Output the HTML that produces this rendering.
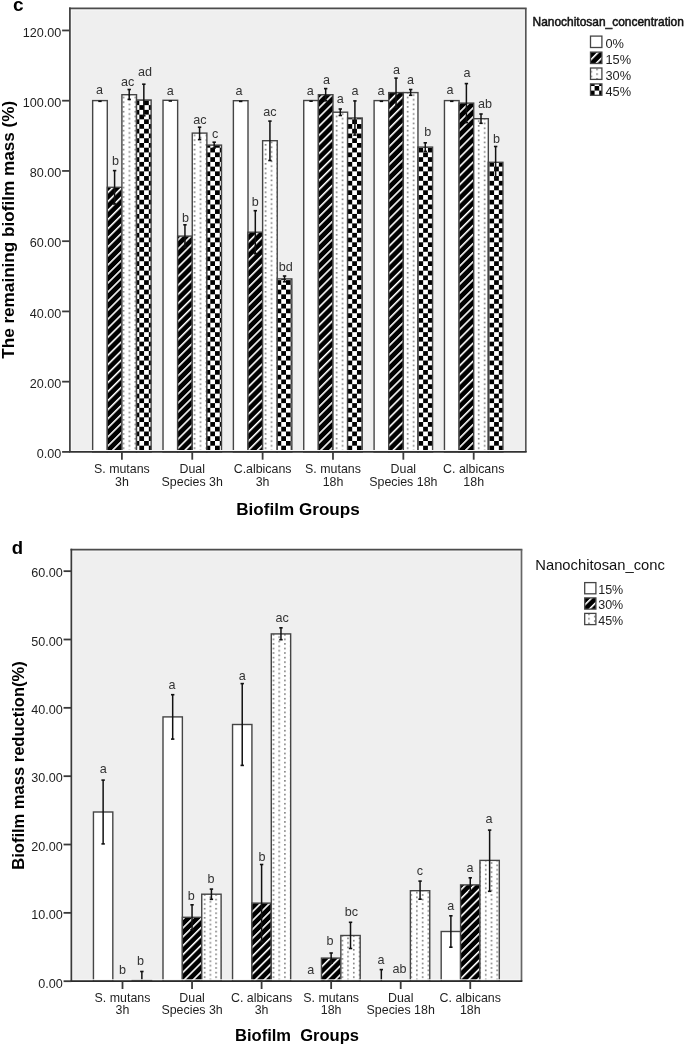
<!DOCTYPE html>
<html><head><meta charset="utf-8"><title>Biofilm charts</title>
<style>
html,body{margin:0;padding:0;background:#fff;width:685px;height:1046px;overflow:hidden}
svg{display:block;will-change:transform;filter:blur(0.35px)}
text{font-family:"Liberation Sans", sans-serif}
</style></head><body>
<svg width="685" height="1046" viewBox="0 0 685 1046">
<defs>
<pattern id="hatch" patternUnits="userSpaceOnUse" x="0.37" y="0" width="6.40" height="6.40" patternTransform="rotate(45)">
<rect width="6.40" height="6.40" fill="#000"/><rect x="0" y="0" width="1.6" height="6.40" fill="#fff"/>
</pattern>
<pattern id="hatchd" patternUnits="userSpaceOnUse" x="5.95" y="0" width="6.28" height="6.28" patternTransform="rotate(45)">
<rect width="6.28" height="6.28" fill="#000"/><rect x="0" y="0" width="1.6" height="6.28" fill="#fff"/>
</pattern>
<pattern id="hatchLc" patternUnits="userSpaceOnUse" x="4.77" y="0" width="6.40" height="6.40" patternTransform="rotate(45)">
<rect width="6.40" height="6.40" fill="#000"/><rect x="0" y="0" width="1.6" height="6.40" fill="#fff"/>
</pattern>
<pattern id="hatchLd" patternUnits="userSpaceOnUse" x="5.14" y="0" width="6.28" height="6.28" patternTransform="rotate(45)">
<rect width="6.28" height="6.28" fill="#000"/><rect x="0" y="0" width="1.6" height="6.28" fill="#fff"/>
</pattern>
<pattern id="checkL" patternUnits="userSpaceOnUse" x="590.00" y="81.40" width="9.2" height="9.2">
<rect width="9.2" height="9.2" fill="#fff"/><rect width="4.6" height="4.6" fill="#000"/><rect x="4.6" y="4.6" width="4.6" height="4.6" fill="#000"/>
</pattern>
<pattern id="dotsLc" patternUnits="userSpaceOnUse" x="596.25" y="73.35" width="11.6" height="4.74">
<rect width="11.6" height="4.74" fill="#fff"/><rect x="0" y="0" width="1.6" height="1.6" fill="#7c7c7c"/><rect x="5.8" y="2.37" width="1.6" height="1.6" fill="#7c7c7c"/>
</pattern>
<pattern id="check" patternUnits="userSpaceOnUse" x="6.91" y="1.08" width="9.46" height="9.46">
<rect width="9.46" height="9.46" fill="#fff"/><rect width="4.73" height="4.73" fill="#000"/><rect x="4.73" y="4.73" width="4.73" height="4.73" fill="#000"/>
</pattern>
<pattern id="dots" patternUnits="userSpaceOnUse" x="4.26" y="1.84" width="11.84" height="4.74">
<rect width="11.84" height="4.74" fill="#fff"/><rect x="0" y="0" width="1.6" height="1.6" fill="#7c7c7c"/><rect x="5.92" y="2.37" width="1.6" height="1.6" fill="#7c7c7c"/>
</pattern>
<pattern id="dotsd" patternUnits="userSpaceOnUse" x="8.74" y="4.005" width="11.474" height="4.565">
<rect width="11.474" height="4.565" fill="#fff"/><rect x="0" y="0" width="1.6" height="1.6" fill="#7c7c7c"/><rect x="5.737" y="2.2825" width="1.6" height="1.6" fill="#7c7c7c"/>
</pattern>
</defs>
<rect width="685" height="1046" fill="#fff"/>

<rect x="69.9" y="8.47" width="455.90" height="443.43" fill="#efefef"/>
<rect x="92.66" y="100.60" width="14.62" height="351.30" fill="#fff" stroke="#454545" stroke-width="1.4"/>
<rect x="107.28" y="187.30" width="14.62" height="264.60" fill="url(#hatch)" stroke="#454545" stroke-width="1.4"/>
<rect x="121.90" y="94.70" width="14.62" height="357.20" fill="url(#dots)" stroke="#454545" stroke-width="1.4"/>
<rect x="136.52" y="100.00" width="14.62" height="351.90" fill="url(#check)" stroke="#454545" stroke-width="1.4"/>
<rect x="163.02" y="100.30" width="14.62" height="351.60" fill="#fff" stroke="#454545" stroke-width="1.4"/>
<rect x="177.64" y="236.10" width="14.62" height="215.80" fill="url(#hatch)" stroke="#454545" stroke-width="1.4"/>
<rect x="192.26" y="133.10" width="14.62" height="318.80" fill="url(#dots)" stroke="#454545" stroke-width="1.4"/>
<rect x="206.88" y="145.10" width="14.62" height="306.80" fill="url(#check)" stroke="#454545" stroke-width="1.4"/>
<rect x="233.38" y="100.70" width="14.62" height="351.20" fill="#fff" stroke="#454545" stroke-width="1.4"/>
<rect x="248.00" y="232.20" width="14.62" height="219.70" fill="url(#hatch)" stroke="#454545" stroke-width="1.4"/>
<rect x="262.62" y="140.70" width="14.62" height="311.20" fill="url(#dots)" stroke="#454545" stroke-width="1.4"/>
<rect x="277.24" y="278.90" width="14.62" height="173.00" fill="url(#check)" stroke="#454545" stroke-width="1.4"/>
<rect x="303.74" y="100.50" width="14.62" height="351.40" fill="#fff" stroke="#454545" stroke-width="1.4"/>
<rect x="318.36" y="94.70" width="14.62" height="357.20" fill="url(#hatch)" stroke="#454545" stroke-width="1.4"/>
<rect x="332.98" y="112.20" width="14.62" height="339.70" fill="url(#dots)" stroke="#454545" stroke-width="1.4"/>
<rect x="347.60" y="118.00" width="14.62" height="333.90" fill="url(#check)" stroke="#454545" stroke-width="1.4"/>
<rect x="374.10" y="100.60" width="14.62" height="351.30" fill="#fff" stroke="#454545" stroke-width="1.4"/>
<rect x="388.72" y="92.60" width="14.62" height="359.30" fill="url(#hatch)" stroke="#454545" stroke-width="1.4"/>
<rect x="403.34" y="92.60" width="14.62" height="359.30" fill="url(#dots)" stroke="#454545" stroke-width="1.4"/>
<rect x="417.96" y="147.10" width="14.62" height="304.80" fill="url(#check)" stroke="#454545" stroke-width="1.4"/>
<rect x="444.46" y="100.60" width="14.62" height="351.30" fill="#fff" stroke="#454545" stroke-width="1.4"/>
<rect x="459.08" y="103.10" width="14.62" height="348.80" fill="url(#hatch)" stroke="#454545" stroke-width="1.4"/>
<rect x="473.70" y="118.70" width="14.62" height="333.20" fill="url(#dots)" stroke="#454545" stroke-width="1.4"/>
<rect x="488.32" y="162.30" width="14.62" height="289.60" fill="url(#check)" stroke="#454545" stroke-width="1.4"/>
<line x1="98.27" y1="101.30" x2="101.67" y2="101.30" stroke="#111" stroke-width="1.6"/>
<line x1="114.59" y1="170.60" x2="114.59" y2="204.00" stroke="#111" stroke-width="1.5"/>
<line x1="112.89" y1="170.60" x2="116.29" y2="170.60" stroke="#111" stroke-width="1.6"/>
<line x1="112.89" y1="204.00" x2="116.29" y2="204.00" stroke="#111" stroke-width="1.6"/>
<line x1="129.21" y1="89.50" x2="129.21" y2="99.40" stroke="#111" stroke-width="1.5"/>
<line x1="127.51" y1="89.50" x2="130.91" y2="89.50" stroke="#111" stroke-width="1.6"/>
<line x1="127.51" y1="99.40" x2="130.91" y2="99.40" stroke="#111" stroke-width="1.6"/>
<line x1="143.83" y1="84.20" x2="143.83" y2="115.80" stroke="#111" stroke-width="1.5"/>
<line x1="142.13" y1="84.20" x2="145.53" y2="84.20" stroke="#111" stroke-width="1.6"/>
<line x1="142.13" y1="115.80" x2="145.53" y2="115.80" stroke="#111" stroke-width="1.6"/>
<line x1="168.63" y1="101.00" x2="172.03" y2="101.00" stroke="#111" stroke-width="1.6"/>
<line x1="184.95" y1="224.80" x2="184.95" y2="247.40" stroke="#111" stroke-width="1.5"/>
<line x1="183.25" y1="224.80" x2="186.65" y2="224.80" stroke="#111" stroke-width="1.6"/>
<line x1="183.25" y1="247.40" x2="186.65" y2="247.40" stroke="#111" stroke-width="1.6"/>
<line x1="199.57" y1="127.20" x2="199.57" y2="139.60" stroke="#111" stroke-width="1.5"/>
<line x1="197.87" y1="127.20" x2="201.27" y2="127.20" stroke="#111" stroke-width="1.6"/>
<line x1="197.87" y1="139.60" x2="201.27" y2="139.60" stroke="#111" stroke-width="1.6"/>
<line x1="214.19" y1="142.20" x2="214.19" y2="148.00" stroke="#111" stroke-width="1.5"/>
<line x1="212.49" y1="142.20" x2="215.89" y2="142.20" stroke="#111" stroke-width="1.6"/>
<line x1="212.49" y1="148.00" x2="215.89" y2="148.00" stroke="#111" stroke-width="1.6"/>
<line x1="238.99" y1="101.40" x2="242.39" y2="101.40" stroke="#111" stroke-width="1.6"/>
<line x1="255.31" y1="210.70" x2="255.31" y2="253.70" stroke="#111" stroke-width="1.5"/>
<line x1="253.61" y1="210.70" x2="257.01" y2="210.70" stroke="#111" stroke-width="1.6"/>
<line x1="253.61" y1="253.70" x2="257.01" y2="253.70" stroke="#111" stroke-width="1.6"/>
<line x1="269.93" y1="121.10" x2="269.93" y2="160.50" stroke="#111" stroke-width="1.5"/>
<line x1="268.23" y1="121.10" x2="271.63" y2="121.10" stroke="#111" stroke-width="1.6"/>
<line x1="268.23" y1="160.50" x2="271.63" y2="160.50" stroke="#111" stroke-width="1.6"/>
<line x1="284.55" y1="276.00" x2="284.55" y2="281.80" stroke="#111" stroke-width="1.5"/>
<line x1="282.85" y1="276.00" x2="286.25" y2="276.00" stroke="#111" stroke-width="1.6"/>
<line x1="282.85" y1="281.80" x2="286.25" y2="281.80" stroke="#111" stroke-width="1.6"/>
<line x1="309.35" y1="101.20" x2="312.75" y2="101.20" stroke="#111" stroke-width="1.6"/>
<line x1="325.67" y1="88.60" x2="325.67" y2="100.80" stroke="#111" stroke-width="1.5"/>
<line x1="323.97" y1="88.60" x2="327.37" y2="88.60" stroke="#111" stroke-width="1.6"/>
<line x1="323.97" y1="100.80" x2="327.37" y2="100.80" stroke="#111" stroke-width="1.6"/>
<line x1="340.29" y1="109.00" x2="340.29" y2="115.50" stroke="#111" stroke-width="1.5"/>
<line x1="338.59" y1="109.00" x2="341.99" y2="109.00" stroke="#111" stroke-width="1.6"/>
<line x1="338.59" y1="115.50" x2="341.99" y2="115.50" stroke="#111" stroke-width="1.6"/>
<line x1="354.91" y1="100.90" x2="354.91" y2="135.10" stroke="#111" stroke-width="1.5"/>
<line x1="353.21" y1="100.90" x2="356.61" y2="100.90" stroke="#111" stroke-width="1.6"/>
<line x1="353.21" y1="135.10" x2="356.61" y2="135.10" stroke="#111" stroke-width="1.6"/>
<line x1="379.71" y1="101.30" x2="383.11" y2="101.30" stroke="#111" stroke-width="1.6"/>
<line x1="396.03" y1="78.10" x2="396.03" y2="107.10" stroke="#111" stroke-width="1.5"/>
<line x1="394.33" y1="78.10" x2="397.73" y2="78.10" stroke="#111" stroke-width="1.6"/>
<line x1="394.33" y1="107.10" x2="397.73" y2="107.10" stroke="#111" stroke-width="1.6"/>
<line x1="410.65" y1="89.50" x2="410.65" y2="95.30" stroke="#111" stroke-width="1.5"/>
<line x1="408.95" y1="89.50" x2="412.35" y2="89.50" stroke="#111" stroke-width="1.6"/>
<line x1="408.95" y1="95.30" x2="412.35" y2="95.30" stroke="#111" stroke-width="1.6"/>
<line x1="425.27" y1="142.80" x2="425.27" y2="151.40" stroke="#111" stroke-width="1.5"/>
<line x1="423.57" y1="142.80" x2="426.97" y2="142.80" stroke="#111" stroke-width="1.6"/>
<line x1="423.57" y1="151.40" x2="426.97" y2="151.40" stroke="#111" stroke-width="1.6"/>
<line x1="450.07" y1="101.30" x2="453.47" y2="101.30" stroke="#111" stroke-width="1.6"/>
<line x1="466.39" y1="83.60" x2="466.39" y2="122.60" stroke="#111" stroke-width="1.5"/>
<line x1="464.69" y1="83.60" x2="468.09" y2="83.60" stroke="#111" stroke-width="1.6"/>
<line x1="464.69" y1="122.60" x2="468.09" y2="122.60" stroke="#111" stroke-width="1.6"/>
<line x1="481.01" y1="114.00" x2="481.01" y2="123.30" stroke="#111" stroke-width="1.5"/>
<line x1="479.31" y1="114.00" x2="482.71" y2="114.00" stroke="#111" stroke-width="1.6"/>
<line x1="479.31" y1="123.30" x2="482.71" y2="123.30" stroke="#111" stroke-width="1.6"/>
<line x1="495.63" y1="146.50" x2="495.63" y2="178.10" stroke="#111" stroke-width="1.5"/>
<line x1="493.93" y1="146.50" x2="497.33" y2="146.50" stroke="#111" stroke-width="1.6"/>
<line x1="493.93" y1="178.10" x2="497.33" y2="178.10" stroke="#111" stroke-width="1.6"/>
<text x="99.40" y="93.50" font-size="12.6" text-anchor="middle" fill="#333">a</text>
<text x="115.40" y="164.50" font-size="12.6" text-anchor="middle" fill="#333">b</text>
<text x="127.60" y="85.60" font-size="12.6" text-anchor="middle" fill="#333">ac</text>
<text x="145.00" y="76.00" font-size="12.6" text-anchor="middle" fill="#333">ad</text>
<text x="170.30" y="94.80" font-size="12.6" text-anchor="middle" fill="#333">a</text>
<text x="185.40" y="221.50" font-size="12.6" text-anchor="middle" fill="#333">b</text>
<text x="199.90" y="123.60" font-size="12.6" text-anchor="middle" fill="#333">ac</text>
<text x="215.10" y="137.60" font-size="12.6" text-anchor="middle" fill="#333">c</text>
<text x="239.00" y="94.60" font-size="12.6" text-anchor="middle" fill="#333">a</text>
<text x="255.30" y="205.50" font-size="12.6" text-anchor="middle" fill="#333">b</text>
<text x="269.90" y="115.60" font-size="12.6" text-anchor="middle" fill="#333">ac</text>
<text x="285.80" y="270.70" font-size="12.6" text-anchor="middle" fill="#333">bd</text>
<text x="310.20" y="94.50" font-size="12.6" text-anchor="middle" fill="#333">a</text>
<text x="326.60" y="84.00" font-size="12.6" text-anchor="middle" fill="#333">a</text>
<text x="340.20" y="102.60" font-size="12.6" text-anchor="middle" fill="#333">a</text>
<text x="355.00" y="94.50" font-size="12.6" text-anchor="middle" fill="#333">a</text>
<text x="381.00" y="94.50" font-size="12.6" text-anchor="middle" fill="#333">a</text>
<text x="396.60" y="73.70" font-size="12.6" text-anchor="middle" fill="#333">a</text>
<text x="410.40" y="83.60" font-size="12.6" text-anchor="middle" fill="#333">a</text>
<text x="427.80" y="136.00" font-size="12.6" text-anchor="middle" fill="#333">b</text>
<text x="449.90" y="93.60" font-size="12.6" text-anchor="middle" fill="#333">a</text>
<text x="467.10" y="77.00" font-size="12.6" text-anchor="middle" fill="#333">a</text>
<text x="484.90" y="107.60" font-size="12.6" text-anchor="middle" fill="#333">ab</text>
<text x="496.40" y="142.50" font-size="12.6" text-anchor="middle" fill="#333">b</text>
<rect x="71.30000000000001" y="9.870000000000001" width="453.10" height="440.63" fill="none" stroke="#f8f8f8" stroke-width="1"/>
<line x1="69.05000000000001" y1="8.47" x2="526.65" y2="8.47" stroke="#4c4c4c" stroke-width="1.7"/>
<line x1="525.8" y1="8.47" x2="525.8" y2="451.9" stroke="#555555" stroke-width="1.7"/>
<line x1="69.9" y1="7.620000000000001" x2="69.9" y2="451.9" stroke="#3c3c3c" stroke-width="1.7"/>
<line x1="69.05000000000001" y1="451.9" x2="526.65" y2="451.9" stroke="#333333" stroke-width="1.7"/>
<line x1="62.10" y1="451.90" x2="69.90" y2="451.90" stroke="#3c3c3c" stroke-width="1.8"/>
<text x="61.20" y="458.20" font-size="12.6" text-anchor="end" fill="#1e1e1e">0.00</text>
<line x1="62.10" y1="381.66" x2="69.90" y2="381.66" stroke="#3c3c3c" stroke-width="1.8"/>
<text x="61.20" y="387.96" font-size="12.6" text-anchor="end" fill="#1e1e1e">20.00</text>
<line x1="62.10" y1="311.42" x2="69.90" y2="311.42" stroke="#3c3c3c" stroke-width="1.8"/>
<text x="61.20" y="317.72" font-size="12.6" text-anchor="end" fill="#1e1e1e">40.00</text>
<line x1="62.10" y1="241.18" x2="69.90" y2="241.18" stroke="#3c3c3c" stroke-width="1.8"/>
<text x="61.20" y="247.48" font-size="12.6" text-anchor="end" fill="#1e1e1e">60.00</text>
<line x1="62.10" y1="170.94" x2="69.90" y2="170.94" stroke="#3c3c3c" stroke-width="1.8"/>
<text x="61.20" y="177.24" font-size="12.6" text-anchor="end" fill="#1e1e1e">80.00</text>
<line x1="62.10" y1="100.70" x2="69.90" y2="100.70" stroke="#3c3c3c" stroke-width="1.8"/>
<text x="61.20" y="107.00" font-size="12.6" text-anchor="end" fill="#1e1e1e">100.00</text>
<line x1="62.10" y1="30.46" x2="69.90" y2="30.46" stroke="#3c3c3c" stroke-width="1.8"/>
<text x="61.20" y="36.76" font-size="12.6" text-anchor="end" fill="#1e1e1e">120.00</text>
<line x1="121.90" y1="451.90" x2="121.90" y2="459.70" stroke="#3c3c3c" stroke-width="1.8"/>
<text x="121.90" y="472.70" font-size="12.4" text-anchor="middle" fill="#1e1e1e">S. mutans</text>
<text x="121.90" y="485.50" font-size="12.4" text-anchor="middle" fill="#1e1e1e">3h</text>
<line x1="192.26" y1="451.90" x2="192.26" y2="459.70" stroke="#3c3c3c" stroke-width="1.8"/>
<text x="192.26" y="472.70" font-size="12.4" text-anchor="middle" fill="#1e1e1e">Dual</text>
<text x="192.26" y="485.50" font-size="12.4" text-anchor="middle" fill="#1e1e1e">Species 3h</text>
<line x1="262.62" y1="451.90" x2="262.62" y2="459.70" stroke="#3c3c3c" stroke-width="1.8"/>
<text x="262.62" y="472.70" font-size="12.4" text-anchor="middle" fill="#1e1e1e">C.albicans</text>
<text x="262.62" y="485.50" font-size="12.4" text-anchor="middle" fill="#1e1e1e">3h</text>
<line x1="332.98" y1="451.90" x2="332.98" y2="459.70" stroke="#3c3c3c" stroke-width="1.8"/>
<text x="332.98" y="472.70" font-size="12.4" text-anchor="middle" fill="#1e1e1e">S. mutans</text>
<text x="332.98" y="485.50" font-size="12.4" text-anchor="middle" fill="#1e1e1e">18h</text>
<line x1="403.34" y1="451.90" x2="403.34" y2="459.70" stroke="#3c3c3c" stroke-width="1.8"/>
<text x="403.34" y="472.70" font-size="12.4" text-anchor="middle" fill="#1e1e1e">Dual</text>
<text x="403.34" y="485.50" font-size="12.4" text-anchor="middle" fill="#1e1e1e">Species 18h</text>
<line x1="473.70" y1="451.90" x2="473.70" y2="459.70" stroke="#3c3c3c" stroke-width="1.8"/>
<text x="473.70" y="472.70" font-size="12.4" text-anchor="middle" fill="#1e1e1e">C. albicans</text>
<text x="473.70" y="485.50" font-size="12.4" text-anchor="middle" fill="#1e1e1e">18h</text>
<text x="298" y="515" font-size="17" font-weight="bold" text-anchor="middle" fill="#000" textLength="123.5" lengthAdjust="spacingAndGlyphs" xml:space="preserve" style="white-space:pre">Biofilm Groups</text>
<rect x="71.35" y="549.56" width="450.15" height="431.64" fill="#efefef"/>
<rect x="93.44" y="812.00" width="19.37" height="169.20" fill="#fff" stroke="#454545" stroke-width="1.4"/>
<rect x="132.19" y="980.30" width="19.37" height="0.90" fill="url(#dotsd)" stroke="#454545" stroke-width="1.4"/>
<rect x="163.00" y="716.90" width="19.37" height="264.30" fill="#fff" stroke="#454545" stroke-width="1.4"/>
<rect x="182.37" y="917.30" width="19.37" height="63.90" fill="url(#hatchd)" stroke="#454545" stroke-width="1.4"/>
<rect x="201.74" y="894.20" width="19.37" height="87.00" fill="url(#dotsd)" stroke="#454545" stroke-width="1.4"/>
<rect x="232.55" y="724.50" width="19.37" height="256.70" fill="#fff" stroke="#454545" stroke-width="1.4"/>
<rect x="251.92" y="903.10" width="19.37" height="78.10" fill="url(#hatchd)" stroke="#454545" stroke-width="1.4"/>
<rect x="271.29" y="633.90" width="19.37" height="347.30" fill="url(#dotsd)" stroke="#454545" stroke-width="1.4"/>
<rect x="321.46" y="958.10" width="19.37" height="23.10" fill="url(#hatchd)" stroke="#454545" stroke-width="1.4"/>
<rect x="340.83" y="935.50" width="19.37" height="45.70" fill="url(#dotsd)" stroke="#454545" stroke-width="1.4"/>
<rect x="410.38" y="890.70" width="19.37" height="90.50" fill="url(#dotsd)" stroke="#454545" stroke-width="1.4"/>
<rect x="441.19" y="931.50" width="19.37" height="49.70" fill="#fff" stroke="#454545" stroke-width="1.4"/>
<rect x="460.56" y="884.90" width="19.37" height="96.30" fill="url(#hatchd)" stroke="#454545" stroke-width="1.4"/>
<rect x="479.94" y="860.40" width="19.37" height="120.80" fill="url(#dotsd)" stroke="#454545" stroke-width="1.4"/>
<line x1="103.13" y1="780.10" x2="103.13" y2="843.90" stroke="#111" stroke-width="1.5"/>
<line x1="101.43" y1="780.10" x2="104.83" y2="780.10" stroke="#111" stroke-width="1.6"/>
<line x1="101.43" y1="843.90" x2="104.83" y2="843.90" stroke="#111" stroke-width="1.6"/>
<line x1="141.87" y1="971.50" x2="141.87" y2="981.00" stroke="#111" stroke-width="1.5"/>
<line x1="140.17" y1="971.50" x2="143.57" y2="971.50" stroke="#111" stroke-width="1.6"/>
<line x1="172.68" y1="694.70" x2="172.68" y2="739.10" stroke="#111" stroke-width="1.5"/>
<line x1="170.98" y1="694.70" x2="174.38" y2="694.70" stroke="#111" stroke-width="1.6"/>
<line x1="170.98" y1="739.10" x2="174.38" y2="739.10" stroke="#111" stroke-width="1.6"/>
<line x1="192.05" y1="904.80" x2="192.05" y2="929.80" stroke="#111" stroke-width="1.5"/>
<line x1="190.35" y1="904.80" x2="193.75" y2="904.80" stroke="#111" stroke-width="1.6"/>
<line x1="190.35" y1="929.80" x2="193.75" y2="929.80" stroke="#111" stroke-width="1.6"/>
<line x1="211.42" y1="889.10" x2="211.42" y2="899.30" stroke="#111" stroke-width="1.5"/>
<line x1="209.72" y1="889.10" x2="213.12" y2="889.10" stroke="#111" stroke-width="1.6"/>
<line x1="209.72" y1="899.30" x2="213.12" y2="899.30" stroke="#111" stroke-width="1.6"/>
<line x1="242.23" y1="683.60" x2="242.23" y2="765.40" stroke="#111" stroke-width="1.5"/>
<line x1="240.53" y1="683.60" x2="243.93" y2="683.60" stroke="#111" stroke-width="1.6"/>
<line x1="240.53" y1="765.40" x2="243.93" y2="765.40" stroke="#111" stroke-width="1.6"/>
<line x1="261.60" y1="864.50" x2="261.60" y2="941.70" stroke="#111" stroke-width="1.5"/>
<line x1="259.90" y1="864.50" x2="263.30" y2="864.50" stroke="#111" stroke-width="1.6"/>
<line x1="259.90" y1="941.70" x2="263.30" y2="941.70" stroke="#111" stroke-width="1.6"/>
<line x1="280.97" y1="627.80" x2="280.97" y2="639.70" stroke="#111" stroke-width="1.5"/>
<line x1="279.27" y1="627.80" x2="282.67" y2="627.80" stroke="#111" stroke-width="1.6"/>
<line x1="279.27" y1="639.70" x2="282.67" y2="639.70" stroke="#111" stroke-width="1.6"/>
<line x1="331.15" y1="953.00" x2="331.15" y2="963.20" stroke="#111" stroke-width="1.5"/>
<line x1="329.45" y1="953.00" x2="332.85" y2="953.00" stroke="#111" stroke-width="1.6"/>
<line x1="329.45" y1="963.20" x2="332.85" y2="963.20" stroke="#111" stroke-width="1.6"/>
<line x1="350.52" y1="922.30" x2="350.52" y2="948.50" stroke="#111" stroke-width="1.5"/>
<line x1="348.82" y1="922.30" x2="352.22" y2="922.30" stroke="#111" stroke-width="1.6"/>
<line x1="348.82" y1="948.50" x2="352.22" y2="948.50" stroke="#111" stroke-width="1.6"/>
<line x1="381.33" y1="969.60" x2="381.33" y2="981.00" stroke="#111" stroke-width="1.5"/>
<line x1="379.63" y1="969.60" x2="383.03" y2="969.60" stroke="#111" stroke-width="1.6"/>
<line x1="420.07" y1="881.10" x2="420.07" y2="899.20" stroke="#111" stroke-width="1.5"/>
<line x1="418.37" y1="881.10" x2="421.77" y2="881.10" stroke="#111" stroke-width="1.6"/>
<line x1="418.37" y1="899.20" x2="421.77" y2="899.20" stroke="#111" stroke-width="1.6"/>
<line x1="450.88" y1="915.80" x2="450.88" y2="947.20" stroke="#111" stroke-width="1.5"/>
<line x1="449.18" y1="915.80" x2="452.58" y2="915.80" stroke="#111" stroke-width="1.6"/>
<line x1="449.18" y1="947.20" x2="452.58" y2="947.20" stroke="#111" stroke-width="1.6"/>
<line x1="470.25" y1="877.80" x2="470.25" y2="892.00" stroke="#111" stroke-width="1.5"/>
<line x1="468.55" y1="877.80" x2="471.95" y2="877.80" stroke="#111" stroke-width="1.6"/>
<line x1="468.55" y1="892.00" x2="471.95" y2="892.00" stroke="#111" stroke-width="1.6"/>
<line x1="489.62" y1="830.10" x2="489.62" y2="891.30" stroke="#111" stroke-width="1.5"/>
<line x1="487.92" y1="830.10" x2="491.32" y2="830.10" stroke="#111" stroke-width="1.6"/>
<line x1="487.92" y1="891.30" x2="491.32" y2="891.30" stroke="#111" stroke-width="1.6"/>
<text x="103.15" y="772.90" font-size="12.6" text-anchor="middle" fill="#333">a</text>
<text x="122.40" y="973.90" font-size="12.6" text-anchor="middle" fill="#333">b</text>
<text x="140.50" y="964.50" font-size="12.6" text-anchor="middle" fill="#333">b</text>
<text x="172.00" y="689.20" font-size="12.6" text-anchor="middle" fill="#333">a</text>
<text x="191.30" y="899.90" font-size="12.6" text-anchor="middle" fill="#333">b</text>
<text x="210.90" y="883.00" font-size="12.6" text-anchor="middle" fill="#333">b</text>
<text x="242.20" y="680.40" font-size="12.6" text-anchor="middle" fill="#333">a</text>
<text x="262.10" y="861.00" font-size="12.6" text-anchor="middle" fill="#333">b</text>
<text x="282.20" y="622.40" font-size="12.6" text-anchor="middle" fill="#333">ac</text>
<text x="310.80" y="973.70" font-size="12.6" text-anchor="middle" fill="#333">a</text>
<text x="329.90" y="945.00" font-size="12.6" text-anchor="middle" fill="#333">b</text>
<text x="351.50" y="916.40" font-size="12.6" text-anchor="middle" fill="#333">bc</text>
<text x="380.90" y="964.40" font-size="12.6" text-anchor="middle" fill="#333">a</text>
<text x="399.60" y="973.20" font-size="12.6" text-anchor="middle" fill="#333">ab</text>
<text x="419.90" y="875.30" font-size="12.6" text-anchor="middle" fill="#333">c</text>
<text x="450.80" y="910.20" font-size="12.6" text-anchor="middle" fill="#333">a</text>
<text x="470.00" y="871.50" font-size="12.6" text-anchor="middle" fill="#333">a</text>
<text x="488.90" y="823.40" font-size="12.6" text-anchor="middle" fill="#333">a</text>
<rect x="72.75" y="550.9599999999999" width="447.35" height="428.84" fill="none" stroke="#f8f8f8" stroke-width="1"/>
<line x1="70.5" y1="549.56" x2="522.35" y2="549.56" stroke="#4c4c4c" stroke-width="1.7"/>
<line x1="521.5" y1="549.56" x2="521.5" y2="981.2" stroke="#666666" stroke-width="1.7"/>
<line x1="71.35" y1="548.7099999999999" x2="71.35" y2="981.2" stroke="#3a3a3a" stroke-width="1.7"/>
<line x1="70.5" y1="981.2" x2="522.35" y2="981.2" stroke="#2a2a2a" stroke-width="1.7"/>
<line x1="63.55" y1="981.20" x2="71.35" y2="981.20" stroke="#3a3a3a" stroke-width="1.8"/>
<text x="62.65" y="987.50" font-size="12.6" text-anchor="end" fill="#1e1e1e">0.00</text>
<line x1="63.55" y1="912.86" x2="71.35" y2="912.86" stroke="#3a3a3a" stroke-width="1.8"/>
<text x="62.65" y="919.16" font-size="12.6" text-anchor="end" fill="#1e1e1e">10.00</text>
<line x1="63.55" y1="844.52" x2="71.35" y2="844.52" stroke="#3a3a3a" stroke-width="1.8"/>
<text x="62.65" y="850.82" font-size="12.6" text-anchor="end" fill="#1e1e1e">20.00</text>
<line x1="63.55" y1="776.18" x2="71.35" y2="776.18" stroke="#3a3a3a" stroke-width="1.8"/>
<text x="62.65" y="782.48" font-size="12.6" text-anchor="end" fill="#1e1e1e">30.00</text>
<line x1="63.55" y1="707.84" x2="71.35" y2="707.84" stroke="#3a3a3a" stroke-width="1.8"/>
<text x="62.65" y="714.14" font-size="12.6" text-anchor="end" fill="#1e1e1e">40.00</text>
<line x1="63.55" y1="639.50" x2="71.35" y2="639.50" stroke="#3a3a3a" stroke-width="1.8"/>
<text x="62.65" y="645.80" font-size="12.6" text-anchor="end" fill="#1e1e1e">50.00</text>
<line x1="63.55" y1="571.16" x2="71.35" y2="571.16" stroke="#3a3a3a" stroke-width="1.8"/>
<text x="62.65" y="577.46" font-size="12.6" text-anchor="end" fill="#1e1e1e">60.00</text>
<line x1="122.50" y1="981.20" x2="122.50" y2="989.00" stroke="#3a3a3a" stroke-width="1.8"/>
<text x="122.50" y="1001.80" font-size="12.4" text-anchor="middle" fill="#1e1e1e">S. mutans</text>
<text x="122.50" y="1014.00" font-size="12.4" text-anchor="middle" fill="#1e1e1e">3h</text>
<line x1="192.05" y1="981.20" x2="192.05" y2="989.00" stroke="#3a3a3a" stroke-width="1.8"/>
<text x="192.05" y="1001.80" font-size="12.4" text-anchor="middle" fill="#1e1e1e">Dual</text>
<text x="192.05" y="1014.00" font-size="12.4" text-anchor="middle" fill="#1e1e1e">Species 3h</text>
<line x1="261.60" y1="981.20" x2="261.60" y2="989.00" stroke="#3a3a3a" stroke-width="1.8"/>
<text x="261.60" y="1001.80" font-size="12.4" text-anchor="middle" fill="#1e1e1e">C. albicans</text>
<text x="261.60" y="1014.00" font-size="12.4" text-anchor="middle" fill="#1e1e1e">3h</text>
<line x1="331.15" y1="981.20" x2="331.15" y2="989.00" stroke="#3a3a3a" stroke-width="1.8"/>
<text x="331.15" y="1001.80" font-size="12.4" text-anchor="middle" fill="#1e1e1e">S. mutans</text>
<text x="331.15" y="1014.00" font-size="12.4" text-anchor="middle" fill="#1e1e1e">18h</text>
<line x1="400.70" y1="981.20" x2="400.70" y2="989.00" stroke="#3a3a3a" stroke-width="1.8"/>
<text x="400.70" y="1001.80" font-size="12.4" text-anchor="middle" fill="#1e1e1e">Dual</text>
<text x="400.70" y="1014.00" font-size="12.4" text-anchor="middle" fill="#1e1e1e">Species 18h</text>
<line x1="470.25" y1="981.20" x2="470.25" y2="989.00" stroke="#3a3a3a" stroke-width="1.8"/>
<text x="470.25" y="1001.80" font-size="12.4" text-anchor="middle" fill="#1e1e1e">C. albicans</text>
<text x="470.25" y="1014.00" font-size="12.4" text-anchor="middle" fill="#1e1e1e">18h</text>
<text x="297" y="1041.3" font-size="16.7" font-weight="bold" text-anchor="middle" fill="#000" textLength="124" lengthAdjust="spacingAndGlyphs" xml:space="preserve" style="white-space:pre">Biofilm  Groups</text>
<text transform="translate(13.6,229.8) rotate(-90)" x="0" y="0" font-size="17" font-weight="bold" text-anchor="middle" fill="#000" textLength="258" lengthAdjust="spacingAndGlyphs">The remaining biofilm mass (%)</text>
<text transform="translate(24,765.5) rotate(-90)" x="0" y="0" font-size="17" font-weight="bold" text-anchor="middle" fill="#000" textLength="208.5" lengthAdjust="spacingAndGlyphs">Biofilm mass reduction(%)</text>
<text x="13.0" y="10.8" font-size="19" font-weight="bold" fill="#000">c</text>
<text x="11.8" y="554.3" font-size="18.5" font-weight="bold" fill="#000">d</text>
<text x="532.5" y="25.8" font-size="12.4" fill="#111" stroke="#111" stroke-width="0.5" textLength="151.4" lengthAdjust="spacingAndGlyphs">Nanochitosan_concentration</text>
<rect x="590.5" y="36.10" width="11.4" height="11.4" fill="#fff" stroke="#454545" stroke-width="1.3"/>
<text x="605.5" y="47.90" font-size="12.8" fill="#1e1e1e">0%</text>
<rect x="590.5" y="52.10" width="11.4" height="11.4" fill="url(#hatchLc)" stroke="#454545" stroke-width="1.3"/>
<text x="605.5" y="63.90" font-size="12.8" fill="#1e1e1e">15%</text>
<rect x="590.5" y="68.00" width="11.4" height="11.4" fill="url(#dotsLc)" stroke="#454545" stroke-width="1.3"/>
<text x="605.5" y="79.80" font-size="12.8" fill="#1e1e1e">30%</text>
<rect x="590.5" y="83.90" width="11.4" height="11.4" fill="url(#checkL)" stroke="#454545" stroke-width="1.3"/>
<text x="605.5" y="95.70" font-size="12.8" fill="#1e1e1e">45%</text>
<text x="535.3" y="570.4" font-size="15" fill="#111" textLength="129.6" lengthAdjust="spacingAndGlyphs">Nanochitosan_conc</text>
<rect x="584.7" y="582.60" width="11.2" height="11.2" fill="#fff" stroke="#454545" stroke-width="1.3"/>
<text x="598.2" y="594.00" font-size="12.5" fill="#1e1e1e">15%</text>
<rect x="584.7" y="597.90" width="11.2" height="11.2" fill="url(#hatchLd)" stroke="#454545" stroke-width="1.3"/>
<text x="598.2" y="609.30" font-size="12.5" fill="#1e1e1e">30%</text>
<rect x="584.7" y="613.40" width="11.2" height="11.2" fill="url(#dotsd)" stroke="#454545" stroke-width="1.3"/>
<text x="598.2" y="624.80" font-size="12.5" fill="#1e1e1e">45%</text>
</svg></body></html>
